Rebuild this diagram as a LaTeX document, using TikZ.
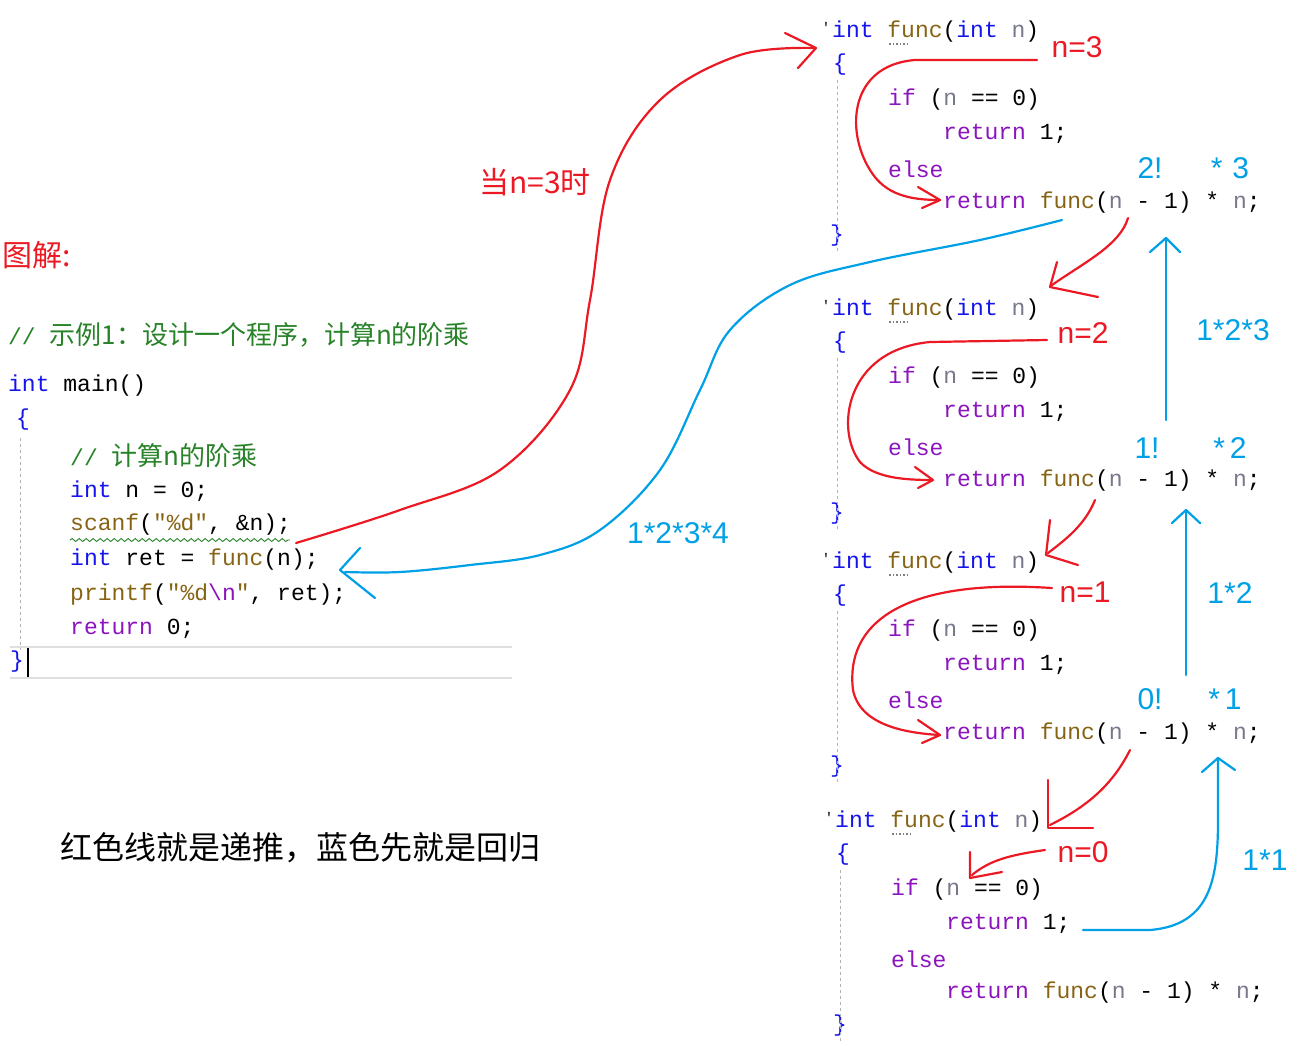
\documentclass[tikz,border=0pt]{standalone}
\usepackage{fontspec}
\setmainfont{Liberation Serif}
\newfontfamily\codef{Liberation Mono}
\newfontfamily\cjk{Noto Sans CJK SC}
\newfontfamily\annf{Liberation Sans}
\usetikzlibrary{decorations.pathmorphing,arrows.meta}
\definecolor{kb}{RGB}{20,20,235}
\definecolor{kp}{RGB}{140,20,190}
\definecolor{fb}{RGB}{135,100,20}
\definecolor{pg}{RGB}{120,120,140}
\definecolor{cg}{RGB}{40,130,40}
\definecolor{rr}{RGB}{235,25,35}
\definecolor{bb}{RGB}{0,160,230}
\newcommand{\Kw}[1]{\textcolor{kb}{#1}}
\newcommand{\Pw}[1]{\textcolor{kp}{#1}}
\newcommand{\Fw}[1]{\textcolor{fb}{#1}}
\newcommand{\Gw}[1]{\textcolor{pg}{#1}}
\newcommand{\cjkbig}{\cjk\fontsize{26}{30}\selectfont}
\tikzset{code/.style={anchor=west,inner sep=0pt,font=\codef\fontsize{23}{27}\selectfont},
ann/.style={inner sep=0pt,font=\annf\fontsize{30}{34}\selectfont},
red/.style={draw=rr,line width=2.2pt,line cap=round,line join=round},
blu/.style={draw=bb,line width=2.2pt,line cap=round,line join=round},
guide/.style={draw=gray!60,dashed,line width=0.8pt}}
\begin{document}
\begin{tikzpicture}[x=1pt,y=-1pt]
\useasboundingbox (0,0) rectangle (1300,1045);
% main
\node[code] (c0) at (8,335) {\textcolor{cg}{// {\cjkbig 示例1：设计一个程序，计算n的阶乘}}};
\node[code] (m1) at (8,386) {\Kw{int} main()};
\node[code] (m2) at (16,420) {\textcolor{kb}{\{}};
\node[code] (m3) at (70,456) {\textcolor{cg}{// {\cjkbig 计算n的阶乘}}};
\node[code] (m4) at (70,491) {\Kw{int} n = 0;};
\node[code] (m5) at (70,525) {\Fw{scanf}(\Fw{"\%d"}, \&n);};
\node[code] (m6) at (70,560) {\Kw{int} ret = \Fw{func}(n);};
\node[code] (m7) at (70,595) {\Fw{printf}(\Fw{"\%d}\Pw{\textbackslash n}\Fw{"}, ret);};
\node[code] (m8) at (70,629) {\Pw{return} 0;};
\node[code] (m9) at (10,662) {\textcolor{kb}{\}}};
\draw[line width=1.5pt] (28,648)--(28,678);
\draw[gray!25,line width=1.5pt] (10,647)--(512,647) (10,678)--(512,678);
\draw[guide] (20,438)--(20,650);
\draw[cg,line width=0.9pt,decorate,decoration={snake,amplitude=1.5pt,segment length=7pt}] (70,540)--(290,540);
% func blocks
\foreach \dy/\dx/\nm in {0/0/a,278/0/b,531/0/c,790/3/d}{
 \begin{scope}[shift={(\dx,\dy)}]
 \node[code] (\nm1) at (832,32) {\Kw{int} \Fw{func}(\Kw{int} \Gw{n})};
 \node[code] (\nm2) at (833,65) {\textcolor{kb}{\{}};
 \node[code] (\nm3) at (888,100) {\Pw{if} (\Gw{n} == 0)};
 \node[code] (\nm4) at (943,134) {\Pw{return} 1;};
 \node[code] (\nm5) at (888,169) {\Pw{else}};
 \node[code] (\nm6) at (943,203) {\Pw{return} \Fw{func}(\Gw{n} - 1) * \Gw{n};};
 \node[code] (\nm7) at (830,236) {\textcolor{kb}{\}}};
 \node[inner sep=0pt,font=\codef\fontsize{14}{14}\selectfont] (\nm8) at (826,27) {'};
 \draw[gray,dotted,line width=1.5pt] (889,44)--(910,44);
 \draw[guide] (837,80)--(837,252);
 \end{scope}}
% labels
\node[ann,anchor=west,text=rr,font=\cjk\fontsize{30}{34}\selectfont] (t1) at (2,255) {图解:};
\node[ann,text=rr,font=\cjk\fontsize{30}{34}\selectfont] (t2) at (535,182) {当n=3时};
\node[ann,font=\cjk\fontsize{32}{36}\selectfont] (t3) at (300,848) {红色线就是递推，蓝色先就是回归};
\node[ann,text=bb] (l1) at (678,533) {1*2*3*4};
\node[ann,text=rr] (n3) at (1077,47) {n=3};
\node[ann,text=rr] (n2) at (1083,333) {n=2};
\node[ann,text=rr] (n1) at (1085,592) {n=1};
\node[ann,text=rr] (n0) at (1083,852) {n=0};
\node[ann,text=bb] (f2) at (1150,168) {2!};
\node[ann,text=bb] (s3) at (1230,168) {*\,\,3};
\node[ann,text=bb] (f1) at (1147,448) {1!};
\node[ann,text=bb] (s2) at (1230,448) {*\,2};
\node[ann,text=bb] (f0) at (1150,699) {0!};
\node[ann,text=bb] (s1) at (1225,699) {*\,1};
\node[ann,text=bb] (p3) at (1233,330) {1*2*3};
\node[ann,text=bb] (p2) at (1230,593) {1*2};
\node[ann,text=bb] (p1) at (1265,860) {1*1};
% red lines
\draw[red] plot[smooth,tension=0.6] coordinates {(296,543) (400,510) (500,470) (570,390) (590,300) (610,180) (660,100) (740,55) (815,48)};
\draw[red] (785,33)--(816,48)--(798,68);
\draw[red] (1037,60)--(915,60) .. controls (850,65) and (845,130) .. (870,170) .. controls (885,195) and (910,200) .. (940,200);
\draw[red] (918,187)--(940,200)--(922,208);
\draw[red] (1128,218) .. controls (1120,245) and (1085,262) .. (1052,285);
\draw[red] (1057,262)--(1050,287)--(1098,297);
\draw[red] (1047,340)--(930,342) .. controls (845,350) and (835,430) .. (860,462) .. controls (875,478) and (905,480) .. (932,480);
\draw[red] (915,467)--(933,480)--(918,488);
\draw[red] (1095,500) .. controls (1085,525) and (1065,540) .. (1048,553);
\draw[red] (1050,520)--(1046,555)--(1078,565);
\draw[red] (1052,588) .. controls (900,578) and (845,625) .. (853,690) .. controls (860,725) and (905,733) .. (940,735);
\draw[red] (918,720)--(940,735)--(922,743);
\draw[red] (1130,750) .. controls (1110,790) and (1080,810) .. (1050,825);
\draw[red] (1048,780)--(1048,828)--(1093,828);
\draw[red] (1045,850) .. controls (1010,855) and (990,860) .. (972,875);
\draw[red] (970,852)--(970,878)--(1002,872);
% blue lines
\draw[blu] plot[smooth,tension=0.6] coordinates {(1062,220) (980,240) (870,262) (790,285) (730,330) (700,390) (660,470) (600,530) (540,555) (470,565) (400,572) (345,572)};
\draw[blu] (360,548)--(340,570)--(375,598);
\draw[blu] (1166,420)--(1166,240);
\draw[blu] (1150,252)--(1166,238)--(1180,252);
\draw[blu] (1186,675)--(1186,510);
\draw[blu] (1172,523)--(1186,510)--(1200,523);
\draw[blu] (1083,930) -- (1150,930) .. controls (1210,925) and (1218,880) .. (1218,820) -- (1218,758);
\draw[blu] (1202,772)--(1218,758)--(1235,770);
\end{tikzpicture}
\end{document}
